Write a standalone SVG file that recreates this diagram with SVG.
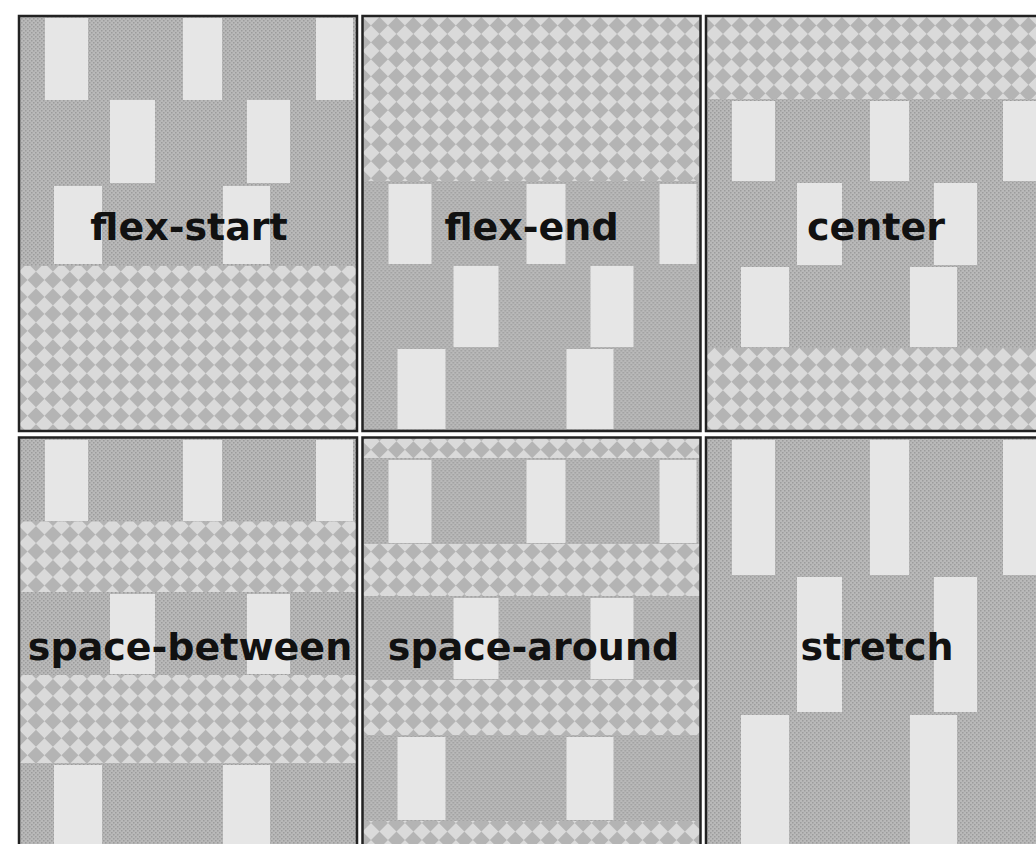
<svg xmlns="http://www.w3.org/2000/svg" width="1036" height="844" viewBox="0 0 1036 844">
<style>
.chk{fill:url(#checker)}
.gry{fill:url(#dither)}
.lt{fill:#e6e6e6}
.frame{fill:none;stroke:#222;stroke-width:2.5}
.lbl{font-family:"DejaVu Sans",sans-serif;font-weight:bold;font-size:38px;fill:#111;text-anchor:middle}
</style>
<defs>
<pattern id="checker" width="24" height="24" patternUnits="userSpaceOnUse" patternTransform="rotate(45)">
<rect width="24" height="24" fill="#dadada"/>
<rect width="12" height="12" fill="#b4b4b4"/>
<rect x="12" y="12" width="12" height="12" fill="#b4b4b4"/>
</pattern>
<pattern id="dither" width="4" height="4" patternUnits="userSpaceOnUse">
<rect width="4" height="4" fill="#b9b9b9"/>
<rect width="1.5" height="1.5" fill="#9c9c9c"/>
<rect x="2" y="2" width="1.5" height="1.5" fill="#9c9c9c"/>
</pattern>
</defs>
<rect width="1036" height="844" fill="#ffffff"/>

<g id="flex-start" transform="translate(19,0)">
<rect class="chk" x="0" y="16" width="338" height="415"/>
<rect class="gry" x="0" y="16" width="338" height="84"/>
<rect class="lt" x="26" y="18" width="43" height="82"/><rect class="lt" x="164" y="18" width="39" height="82"/><rect class="lt" x="297" y="18" width="37" height="82"/>
<rect class="gry" x="0" y="100" width="338" height="83"/>
<rect class="lt" x="91" y="100" width="45" height="83"/><rect class="lt" x="228" y="100" width="43" height="83"/>
<rect class="gry" x="0" y="183" width="338" height="83"/>
<rect class="lt" x="35" y="186" width="48" height="78"/><rect class="lt" x="204" y="186" width="47" height="78"/>
<rect class="frame" x="0" y="16" width="338" height="415"/>
<text class="lbl" x="170" y="240">flex-start</text>
</g>

<g id="flex-end" transform="translate(362.5,0)">
<rect class="chk" x="0" y="16" width="338" height="415"/>
<rect class="gry" x="0" y="181" width="338" height="83"/>
<rect class="lt" x="26" y="184" width="43" height="80"/><rect class="lt" x="164" y="184" width="39" height="80"/><rect class="lt" x="297" y="184" width="37" height="80"/>
<rect class="gry" x="0" y="264" width="338" height="83"/>
<rect class="lt" x="91" y="266" width="45" height="81"/><rect class="lt" x="228" y="266" width="43" height="81"/>
<rect class="gry" x="0" y="347" width="338" height="84"/>
<rect class="lt" x="35" y="349" width="48" height="80"/><rect class="lt" x="204" y="349" width="47" height="80"/>
<rect class="frame" x="0" y="16" width="338" height="415"/>
<text class="lbl" x="169" y="240">flex-end</text>
</g>

<g id="center" transform="translate(706,0)">
<rect class="chk" x="0" y="16" width="338" height="415"/>
<rect class="gry" x="0" y="99" width="338" height="83"/>
<rect class="lt" x="26" y="101" width="43" height="80"/><rect class="lt" x="164" y="101" width="39" height="80"/><rect class="lt" x="297" y="101" width="37" height="80"/>
<rect class="gry" x="0" y="182" width="338" height="83"/>
<rect class="lt" x="91" y="183" width="45" height="82"/><rect class="lt" x="228" y="183" width="43" height="82"/>
<rect class="gry" x="0" y="265" width="338" height="83"/>
<rect class="lt" x="35" y="267" width="48" height="80"/><rect class="lt" x="204" y="267" width="47" height="80"/>
<rect class="frame" x="0" y="16" width="338" height="415"/>
<text class="lbl" x="170" y="240">center</text>
</g>

<g id="space-between" transform="translate(19,0)">
<rect class="chk" x="0" y="437.5" width="338" height="415"/>
<rect class="gry" x="0" y="437.5" width="338" height="84"/>
<rect class="lt" x="26" y="440" width="43" height="81"/><rect class="lt" x="164" y="440" width="39" height="81"/><rect class="lt" x="297" y="440" width="37" height="81"/>
<rect class="gry" x="0" y="592" width="338" height="83"/>
<rect class="lt" x="91" y="594" width="45" height="80"/><rect class="lt" x="228" y="594" width="43" height="80"/>
<rect class="gry" x="0" y="763" width="338" height="90"/>
<rect class="lt" x="35" y="765" width="48" height="85"/><rect class="lt" x="204" y="765" width="47" height="85"/>
<rect class="frame" x="0" y="437.5" width="338" height="415"/>
<text class="lbl" x="171" y="660">space-between</text>
</g>

<g id="space-around" transform="translate(362.5,0)">
<rect class="chk" x="0" y="437.5" width="338" height="415"/>
<rect class="gry" x="0" y="458" width="338" height="86"/>
<rect class="lt" x="26" y="460" width="43" height="83"/><rect class="lt" x="164" y="460" width="39" height="83"/><rect class="lt" x="297" y="460" width="37" height="83"/>
<rect class="gry" x="0" y="596" width="338" height="84"/>
<rect class="lt" x="91" y="598" width="45" height="81"/><rect class="lt" x="228" y="598" width="43" height="81"/>
<rect class="gry" x="0" y="735" width="338" height="86"/>
<rect class="lt" x="35" y="737" width="48" height="83"/><rect class="lt" x="204" y="737" width="47" height="83"/>
<rect class="frame" x="0" y="437.5" width="338" height="415"/>
<text class="lbl" x="171" y="660">space-around</text>
</g>

<g id="stretch" transform="translate(706,0)">
<rect class="gry" x="0" y="437.5" width="338" height="138"/>
<rect class="lt" x="26" y="440" width="43" height="135"/><rect class="lt" x="164" y="440" width="39" height="135"/><rect class="lt" x="297" y="440" width="37" height="135"/>
<rect class="gry" x="0" y="575" width="338" height="138"/>
<rect class="lt" x="91" y="577" width="45" height="135"/><rect class="lt" x="228" y="577" width="43" height="135"/>
<rect class="gry" x="0" y="713" width="338" height="140"/>
<rect class="lt" x="35" y="715" width="48" height="136"/><rect class="lt" x="204" y="715" width="47" height="136"/>
<rect class="frame" x="0" y="437.5" width="338" height="415"/>
<text class="lbl" x="171" y="660">stretch</text>
</g>

<g id="connectors"/>
</svg>
